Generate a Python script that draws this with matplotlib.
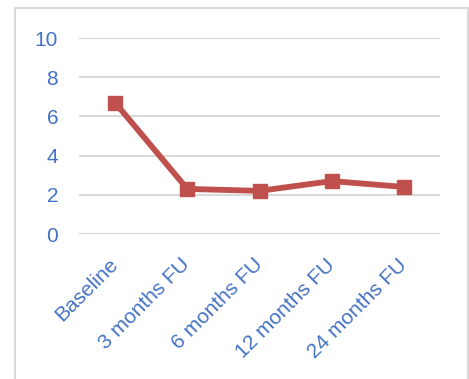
import matplotlib.pyplot as plt
from matplotlib.patches import Rectangle

# data
categories = ['Baseline', '3 months FU', '6 months FU', '12 months FU', '24 months FU']
values = [6.7, 2.3, 2.2, 2.7, 2.4]
yticks = [0, 2, 4, 6, 8, 10]

text_blue = '#4472C4'
line_red = '#C0504D'
grid_grey = '#D9D9D9'

plt.rcParams['font.family'] = ['Liberation Sans', 'DejaVu Sans']

fig = plt.figure(figsize=(4.69, 3.79), dpi=100)
W, H = 469, 379

# outer chart border (bottom runs off the image)
fig.patches.append(Rectangle((15 / W, -0.05), (467.5 - 15) / W, (379 - 8) / H + 0.05,
                             transform=fig.transFigure, fill=False,
                             edgecolor=grid_grey, linewidth=1.5))

ax = fig.add_axes([79 / W, (379 - 234) / H, (440 - 79) / W, (234 - 38) / H])
x = list(range(len(categories)))
ax.plot(x, values, color=line_red, linewidth=4.2, marker='s', markersize=10.5,
        solid_capstyle='round', zorder=3)

ax.set_xlim(-0.5, len(categories) - 0.5)
ax.set_ylim(0, 10)
ax.set_yticks(yticks)
ax.set_yticklabels([str(t) for t in yticks])
ax.yaxis.grid(True, color=grid_grey, linewidth=1.5)
ax.set_axisbelow(True)

for s in ax.spines.values():
    s.set_visible(False)
ax.tick_params(axis='both', length=0, labelcolor=text_blue, labelsize=15)
ax.tick_params(axis='y', pad=15)
ax.set_xticks(x)
ax.set_xticklabels(categories, rotation=45, ha='right', va='center',
                   rotation_mode='anchor')
ax.tick_params(axis='x', pad=20)

fig.savefig('out.png', dpi=100)
